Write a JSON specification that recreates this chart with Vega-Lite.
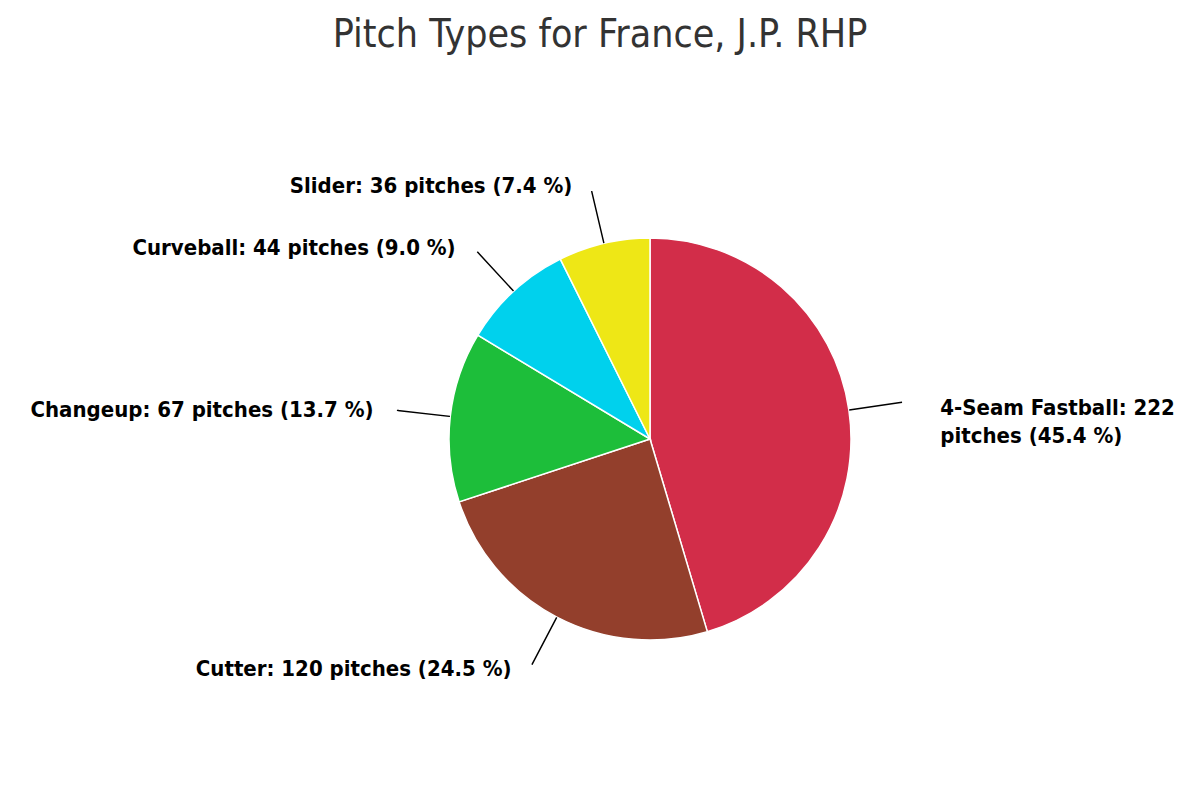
{
  "$schema": "https://vega.github.io/schema/vega-lite/v6.json",
  "autosize": "none",
  "width": 1100,
  "height": 678,
  "padding": {"left": 100, "top": 100, "right": 0, "bottom": 22},
  "background": "white",
  "title": {
    "text": "Pitch Types for France, J.P. RHP",
    "font": "DejaVu Sans Condensed",
    "fontSize": 39,
    "fontWeight": "normal",
    "color": "#333333",
    "anchor": "middle",
    "baseline": "alphabetic",
    "offset": 14,
    "dx": -50
  },
  "data": {
    "values": [
      {"pitch": "4-Seam Fastball", "count": 222, "label": "4-Seam Fastball: 222\npitches (45.4 %)"},
      {"pitch": "Cutter", "count": 120, "label": "Cutter: 120 pitches (24.5 %)"},
      {"pitch": "Changeup", "count": 67, "label": "Changeup: 67 pitches (13.7 %)"},
      {"pitch": "Curveball", "count": 44, "label": "Curveball: 44 pitches (9.0 %)"},
      {"pitch": "Slider", "count": 36, "label": "Slider: 36 pitches (7.4 %)"}
    ]
  },
  "transform": [
    {"stack": "count", "groupby": [], "sort": [{"field": "count", "order": "descending"}], "as": ["s", "e"]},
    {"calculate": "(datum.s + datum.e) / 2", "as": "mid"},
    {"calculate": "datum.mid + 0.02", "as": "mid2"}
  ],
  "layer": [
    {
      "mark": {"type": "arc", "outerRadius": 201, "stroke": "white", "strokeWidth": 1.5},
      "encoding": {
        "theta": {"field": "e", "type": "quantitative", "stack": null, "scale": {"zero": true, "nice": false}},
        "theta2": {"field": "s"},
        "color": {
          "field": "pitch",
          "type": "nominal",
          "scale": {
            "domain": ["4-Seam Fastball", "Cutter", "Changeup", "Curveball", "Slider"],
            "range": ["#d22d49", "#933f2c", "#1dbe3a", "#00d1ed", "#eee716"]
          },
          "legend": null
        }
      }
    },
    {
      "mark": {"type": "arc", "radius": 254, "radius2": 202, "stroke": "black", "strokeWidth": 1.4, "fill": "black"},
      "encoding": {
        "theta": {"field": "mid", "type": "quantitative", "stack": null},
        "theta2": {"field": "mid2"}
      }
    },
    {
      "transform": [{"filter": "datum.pitch != '4-Seam Fastball'"}],
      "mark": {"type": "text", "radius": 260, "align": "right", "baseline": "middle", "dx": -18, "font": "DejaVu Sans Condensed", "fontSize": 22, "fontWeight": "bold", "color": "black"},
      "encoding": {
        "theta": {"field": "mid", "type": "quantitative", "stack": null},
        "text": {"field": "label"}
      }
    },
    {
      "transform": [{"filter": "datum.pitch == '4-Seam Fastball'"}],
      "mark": {"type": "text", "radius": 258, "align": "left", "baseline": "middle", "dx": 35, "dy": 6, "lineBreak": "\n", "lineHeight": 28, "font": "DejaVu Sans Condensed", "fontSize": 22, "fontWeight": "bold", "color": "black"},
      "encoding": {
        "theta": {"field": "mid", "type": "quantitative", "stack": null},
        "text": {"field": "label"}
      }
    }
  ]
}
